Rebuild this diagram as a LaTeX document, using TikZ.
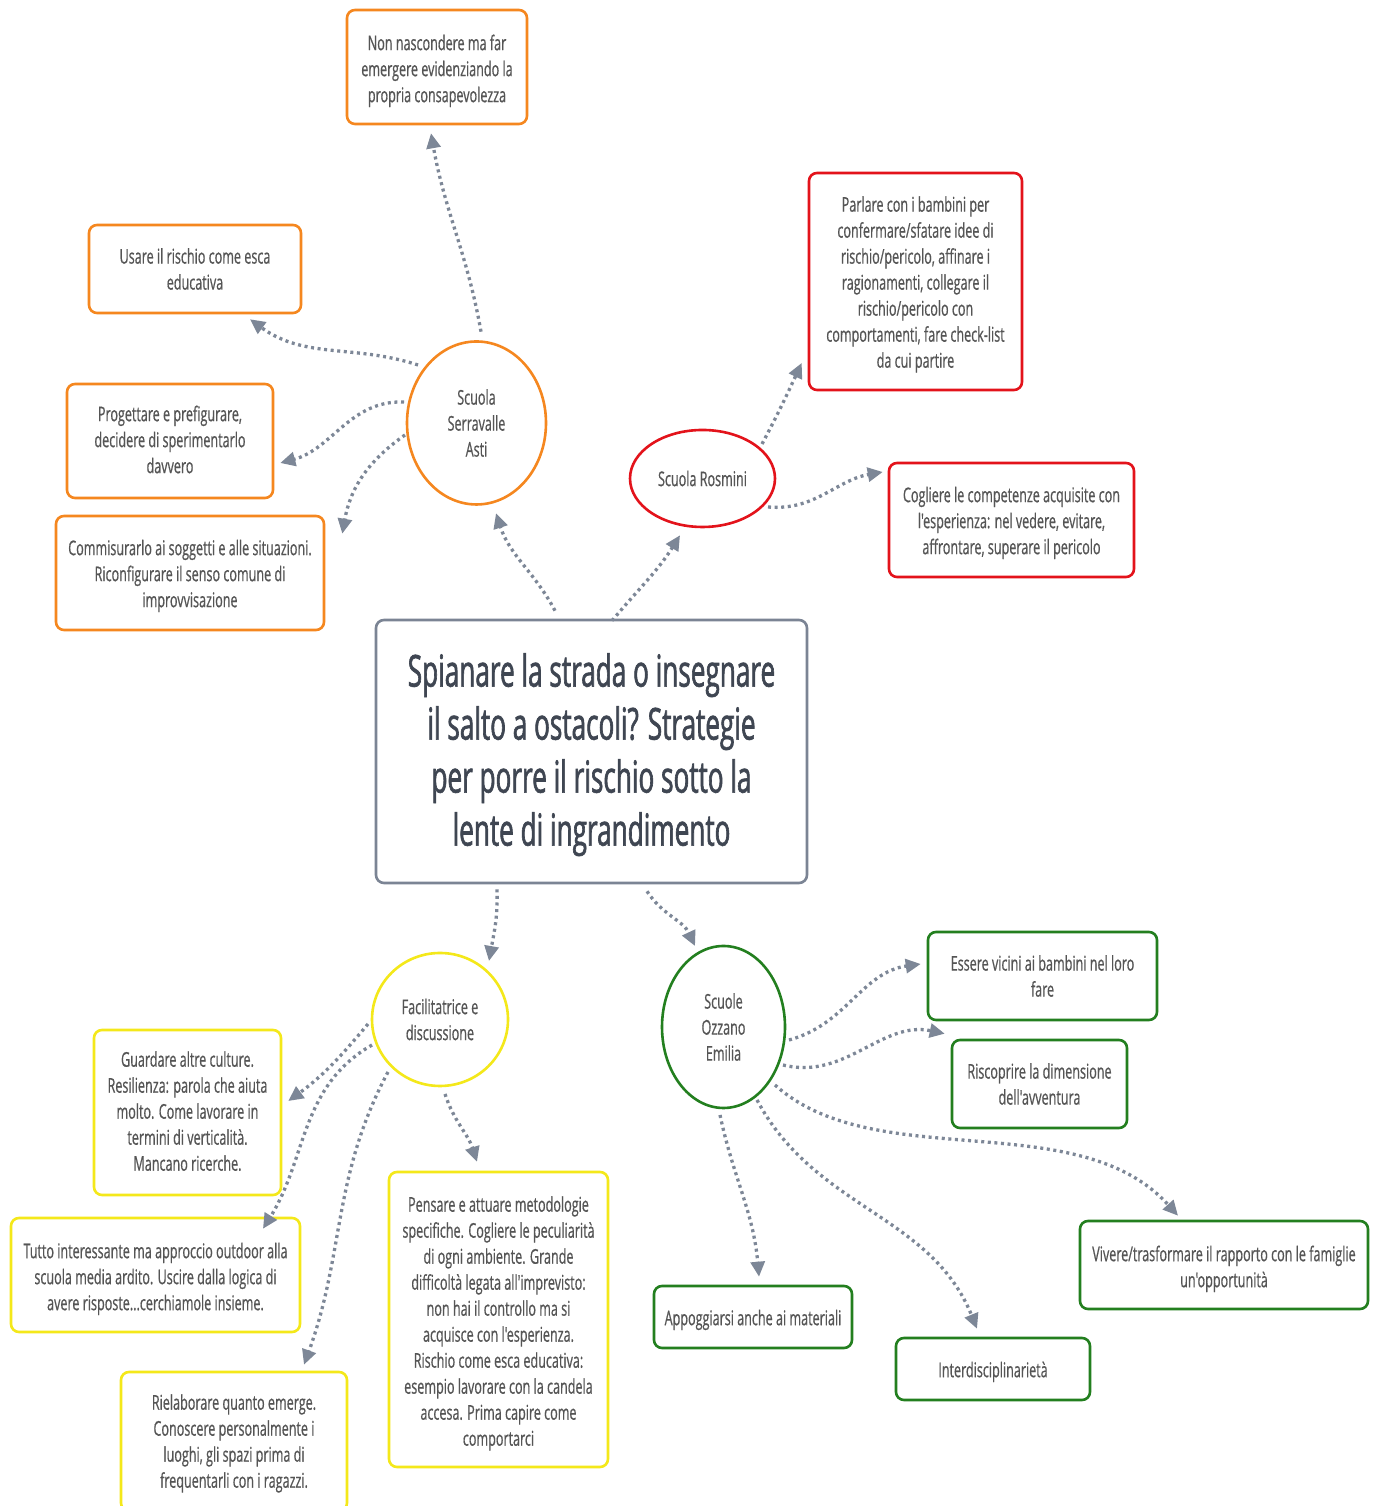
\documentclass[tikz,border=0pt]{standalone}
\usepackage{fontspec}
\setmainfont{Open Sans}[FakeStretch=0.62, FakeBold=0.6, Ligatures=TeXOff]
\newfontfamily\titlefont{Open Sans}[FakeStretch=0.594, FakeBold=1.4, Ligatures=TeXOff]
\usetikzlibrary{arrows.meta,shapes.geometric}
\definecolor{orangeB}{HTML}{F5871F}
\definecolor{redB}{HTML}{E3131B}
\definecolor{yellowB}{HTML}{F4E81A}
\definecolor{greenB}{HTML}{237F1F}
\definecolor{grayB}{HTML}{7B8494}
\definecolor{lnk}{HTML}{7D8797}
\definecolor{txt}{HTML}{555555}
\definecolor{ttl}{HTML}{3F4652}
% centred block of lines, lowered by #1 without changing its box
\newcommand{\tx}[2]{\raisebox{#1}[\height][\depth]{\begin{tabular}{@{}c@{}}#2\end{tabular}}}
\begin{document}
\begin{tikzpicture}[x=1pt,y=1pt,
  every node/.style={font=\fontsize{20.3}{26}\selectfont, text=txt, align=center, inner sep=0pt},
  box/.style={draw, rounded corners=8pt, line width=2.6pt, fill=white},
  oval/.style={ellipse, draw, line width=2.6pt, fill=white},
  link/.style={draw=lnk, line width=3.3pt, dash pattern=on 3pt off 3.6pt,
    -{Triangle[length=15pt,width=14pt]}, fill=none},
]
\fill[white] (0,0) rectangle (1376,1506);
\useasboundingbox (0,0) rectangle (1376,1506);

% central question
\node[box, draw=grayB, minimum width=431pt, minimum height=263pt,
  font=\titlefont\fontsize{44}{53}\selectfont, text=ttl] (title) at (591.5,754.5)
  {\tx{-4pt}{Spianare la strada o insegnare\\il salto a ostacoli? Strategie\\per porre il rischio sotto la\\lente di ingrandimento}};

% Scuola Serravalle Asti (orange)
\node[oval, draw=orangeB, minimum width=139pt, minimum height=163pt] (serr) at (476.5,1083) {Scuola\\Serravalle\\Asti};
\node[box, draw=orangeB, minimum width=180pt, minimum height=114pt] (nn) at (437,1439)
  {\tx{-4pt}{Non nascondere ma far\\emergere evidenziando la\\propria consapevolezza}};
\node[box, draw=orangeB, minimum width=212pt, minimum height=88pt] (usare) at (195,1237)
  {Usare il rischio come esca\\educativa};
\node[box, draw=orangeB, minimum width=206pt, minimum height=114pt] (prog) at (170,1065)
  {\tx{-1pt}{Progettare e prefigurare,\\decidere di sperimentarlo\\davvero}};
\node[box, draw=orangeB, minimum width=268pt, minimum height=114pt] (comm) at (190,933)
  {\tx{-3pt}{Commisurarlo ai soggetti e alle situazioni.\\Riconfigurare il senso comune di\\improvvisazione}};

% Scuola Rosmini (red)
\node[oval, draw=redB, minimum width=145pt, minimum height=97pt] (rosm) at (702.5,1027.5) {Scuola Rosmini};
\node[box, draw=redB, minimum width=213pt, minimum height=217pt] (parl) at (915.5,1224.5)
  {\tx{-3pt}{Parlare con i bambini per\\confermare/sfatare idee di\\rischio/pericolo, affinare i\\ragionamenti, collegare il\\rischio/pericolo con\\comportamenti, fare check-list\\da cui partire}};
\node[box, draw=redB, minimum width=245pt, minimum height=114pt] (cogl) at (1011.5,986)
  {\tx{-3pt}{Cogliere le competenze acquisite con\\l'esperienza: nel vedere, evitare,\\affrontare, superare il pericolo}};

% Facilitatrice e discussione (yellow)
\node[oval, draw=yellowB, minimum width=136pt, minimum height=133pt] (faci) at (440,486.5) {Facilitatrice e\\discussione};
\node[box, draw=yellowB, minimum width=187pt, minimum height=165pt] (guar) at (187.5,393.5)
  {\tx{-1pt}{Guardare altre culture.\\Resilienza: parola che aiuta\\molto. Come lavorare in\\termini di verticalità.\\Mancano ricerche.}};
\node[box, draw=yellowB, minimum width=289pt, minimum height=114pt] (tutt) at (155.5,231)
  {\tx{-4pt}{Tutto interessante ma approccio outdoor alla\\scuola media ardito. Uscire dalla logica di\\avere risposte...cerchiamole insieme.}};
\node[box, draw=yellowB, minimum width=226pt, minimum height=139pt] (riel) at (234,64.5)
  {\tx{-2pt}{Rielaborare quanto emerge.\\Conoscere personalmente i\\luoghi, gli spazi prima di\\frequentarli con i ragazzi.}};
\node[box, draw=yellowB, minimum width=219pt, minimum height=295pt] (pens) at (498.5,186.5)
  {\tx{-4pt}{Pensare e attuare metodologie\\specifiche. Cogliere le peculiarità\\di ogni ambiente. Grande\\difficoltà legata all'imprevisto:\\non hai il controllo ma si\\acquisce con l'esperienza.\\Rischio come esca educativa:\\esempio lavorare con la candela\\accesa. Prima capire come\\comportarci}};

% Scuole Ozzano Emilia (green)
\node[oval, draw=greenB, minimum width=123pt, minimum height=162pt] (ozz) at (723.5,479) {Scuole\\Ozzano\\Emilia};
\node[box, draw=greenB, minimum width=229pt, minimum height=88pt] (esse) at (1042.5,530)
  {Essere vicini ai bambini nel loro\\fare};
\node[box, draw=greenB, minimum width=175pt, minimum height=88pt] (risc) at (1039.5,422)
  {Riscoprire la dimensione\\dell'avventura};
\node[box, draw=greenB, minimum width=288pt, minimum height=88pt] (vive) at (1224,241)
  {\tx{-4pt}{Vivere/trasformare il rapporto con le famiglie\\un'opportunità}};
\node[box, draw=greenB, minimum width=198pt, minimum height=62pt] (appo) at (753,189)
  {\tx{-3pt}{Appoggiarsi anche ai materiali}};
\node[box, draw=greenB, minimum width=194pt, minimum height=62pt] (inte) at (993,137)
  {\tx{-3pt}{Interdisciplinarietà}};

% connectors
\draw[link] ([shift={(-36.5,8)}]title.north) to[out=118,in=-72] ([shift={(19.5,-7.5)}]serr.south);
\draw[link] ([shift={(20.5,-2)}]title.north) to[out=50,in=-122] ([shift={(-22.5,-7)}]rosm.south);

\draw[link] ([shift={(4.5,8.5)}]serr.north) to[out=100,in=-80] ([shift={(-6,-8)}]nn.south);
\draw[link] ([shift={(-58.5,58)}]serr.center) to[out=162,in=-36] ([shift={(55,-5)}]usare.south);
\draw[link] ([shift={(-72.5,21)}]serr.center) to[out=178,in=15] ([shift={(6,-22)}]prog.east);
\draw[link] ([shift={(-71.5,-12)}]serr.center) to[out=215,in=80] ([shift={(17,-19)}]comm.north east);

\draw[link] ([shift={(59.5,34.5)}]rosm.center) to[out=62,in=-115] ([shift={(-6,-81.5)}]parl.west);
\draw[link] ([shift={(65.5,-28.5)}]rosm.center) to[out=-5,in=190] ([shift={(-5,48)}]cogl.west);

\draw[link] ([shift={(-94.5,-5)}]title.south) to[out=-88,in=80] ([shift={(49,58.5)}]faci.center);
\draw[link] ([shift={(55.5,-7)}]title.south) to[out=-57,in=115] ([shift={(-28.5,81)}]ozz.center);

\draw[link] ([shift={(-72,-4.5)}]faci.center) to[out=230,in=36] ([shift={(6,11.5)}]guar.east);
\draw[link] ([shift={(-68,-25.5)}]faci.center) to[out=210,in=58] ([shift={(107.5,-12)}]tutt.north);
\draw[link] ([shift={(-52,-52.5)}]faci.center) to[out=242,in=70] ([shift={(70,6)}]riel.north);
\draw[link] ([shift={(5,-74.5)}]faci.center) to[out=-72,in=108] ([shift={(-21.5,9)}]pens.north);

\draw[link] ([shift={(65.5,-13)}]ozz.center) to[out=15,in=188] ([shift={(-6,12)}]esse.west);
\draw[link] ([shift={(59.5,-38)}]ozz.center) to[out=-14,in=168] ([shift={(-6,5)}]risc.north west);
\draw[link] ([shift={(51.5,-58)}]ozz.center) .. controls +(-42:135) and +(132:150) .. ([shift={(-46,4)}]vive.north);
\draw[link] ([shift={(-3.5,-88)}]ozz.center) to[out=-78,in=95] ([shift={(6,8)}]appo.north);
\draw[link] ([shift={(33.5,-73)}]ozz.center) to[out=-62,in=112] ([shift={(-16,8)}]inte.north);
\end{tikzpicture}
\end{document}
